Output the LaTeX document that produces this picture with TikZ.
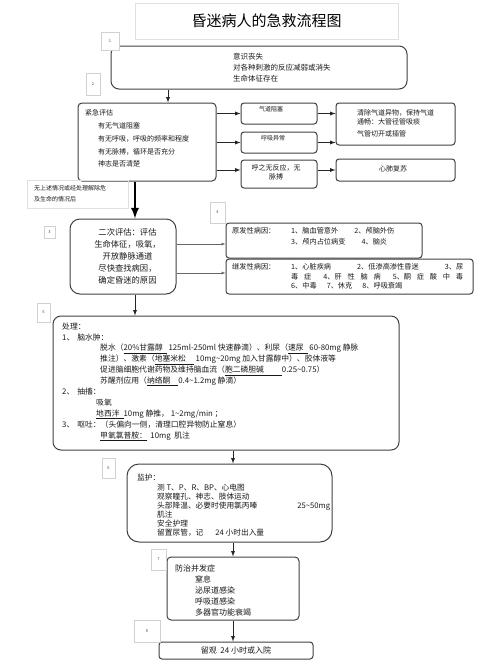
\documentclass[tikz,border=0pt]{standalone}
\usepackage{fontspec}
\setmainfont{Noto Sans CJK SC}
\usetikzlibrary{calc,arrows,shapes,positioning,shadows}
\newcommand{\drug}[2][4pt]{\underline{#2\hspace{#1}}}
\newcommand{\fs}[2]{\fontsize{#1}{#2}\selectfont}
\tikzset{
    component/.style={
    rectangle,rounded corners=3pt,draw=black!75,line width=1pt,inner sep=0pt
    },
    lcomponent/.style={
    rectangle,draw=black!12,line width=0.6pt,inner sep=0pt
    },
    tag/.style={
    rectangle,draw=black!18,line width=0.5pt,fill=white,inner sep=0pt,
    font=\fs{4}{4},text=black!70,
    drop shadow={opacity=0.12,shadow xshift=0.8pt,shadow yshift=-0.8pt}
    },
    txt/.style={
    anchor=north west,inner sep=0pt,align=left,text=black!90
    },
    ctxt/.style={
    anchor=center,inner sep=0pt,align=center,text=black!90
    },
    flow/.style={
    -latex,draw=black!85,line width=0.9pt
    },
    mainflow/.style={
    -latex,draw=black,line width=2.6pt
    },
    lflow/.style={
    -latex,draw=black!60,line width=0.4pt
    },
}
\begin{document}
\begin{tikzpicture}[x=1pt,y=-1pt]
  \useasboundingbox (0,0) rectangle (500,667);
  % boxes
  \node[lcomponent,minimum width=263,minimum height=36,font=\fs{15}{15}] (title) at (266.5,21) {昏迷病人的急救流程图};
  \node[component,rounded corners=8pt,minimum width=296,minimum height=43] (box1) at (259,67.5) {};
  \node[component,rounded corners=4pt,minimum width=138,minimum height=78] (box2) at (147,142) {};
  \node[component,minimum width=76,minimum height=21] (airway) at (279,113.5) {};
  \node[component,minimum width=76,minimum height=21] (breath) at (279,142.5) {};
  \node[component,minimum width=76,minimum height=28] (nopulse) at (279,174) {};
  \node[component,minimum width=119,minimum height=42] (clear) at (395.5,124) {};
  \node[component,minimum width=119,minimum height=22] (cpr) at (395.5,170) {};
  \node[lcomponent,minimum width=101,minimum height=28] (note) at (77.5,194) {};
  \node[component,rounded corners=10pt,minimum width=106,minimum height=75] (box3) at (123,256.5) {};
  \node[component,minimum width=196,minimum height=35] (primary) at (324,240.5) {};
  \node[component,minimum width=247,minimum height=35] (secondary) at (349.5,276.5) {};
  \node[component,rounded corners=8pt,minimum width=346,minimum height=134] (box5) at (226,383) {};
  \node[component,rounded corners=12pt,minimum width=205,minimum height=78] (box6) at (229.5,503) {};
  \node[component,rounded corners=4pt,minimum width=132,minimum height=63] (box7) at (233,588.5) {};
  \node[component,minimum width=154,minimum height=17,font=\fs{8}{8},text=black!90] (box8) at (236,650.5) {留观\ \ 24 小时或入院};

  % number tags
  \node[tag,minimum width=18,minimum height=18] (tag1) at (110,41) {1};
  \node[tag,minimum width=14,minimum height=22] (tag2) at (93,84) {2};
  \node[tag,minimum width=11,minimum height=12] (tag3) at (49.5,232) {3};
  \node[tag,minimum width=15,minimum height=21] (tag4) at (217.5,212.5) {4};
  \node[tag,minimum width=13,minimum height=19] (tag5) at (43.5,312.5) {5};
  \node[tag,minimum width=13,minimum height=20] (tag6) at (108.5,468) {6};
  \node[tag,minimum width=15,minimum height=21] (tag7) at (158.5,559.5) {7};
  \node[tag,minimum width=26,minimum height=22] (tag8) at (147,631) {8};

  % texts
  \node[txt,font=\fs{7.5}{11}] (box1T) at (233,52.5) {意识丧失\\对各种刺激的反应减弱或消失\\生命体征存在};
  \node[txt,font=\fs{7}{12.7}] (box2T) at (85,109.8) {紧急评估\\
    \hspace*{13pt}有无气道阻塞\\
    \hspace*{13pt}有无呼吸，呼吸的频率和程度\\
    \hspace*{13pt}有无脉搏，循环是否充分\\
    \hspace*{13pt}神志是否清楚};
  \node[ctxt,font=\fs{6}{6}] (airwayT) at (271,109) {气道阻塞};
  \node[ctxt,font=\fs{6}{6}] (breathT) at (273,138) {呼吸异常};
  \node[ctxt,font=\fs{7}{9}] (nopulseT) at (276,172.5) {呼之无反应，无\\脉搏};
  \node[txt,font=\fs{7}{9}] (clearT) at (357,109.8) {清除气道异物，保持气道\\通畅：大管径管吸痰\\[3pt]气管切开或插管};
  \node[ctxt,font=\fs{7}{7}] (cprT) at (393,169) {心肺复苏};
  \node[txt,font=\fs{6}{11}] (noteT) at (34,185.2) {无上述情况或经处理解除危\\及生命的情况后};
  \node[ctxt,font=\fs{8.3}{12}] (box3T) at (127.5,256) {二次评估：评估\\生命体征，吸氧，\\开放静脉通道\\尽快查找病因，\\确定昏迷的原因};
  \node[txt,font=\fs{7.2}{11}] (primaryT) at (232,226.7) {\makebox[59pt][l]{原发性病因：}1、脑血管意外\hspace{16pt}2、颅脑外伤\\
    \hspace*{59pt}3、颅内占位病变\hspace{16pt}4、脑炎};
  \node[txt,font=\fs{7.2}{9.5}] (secondaryT) at (232,263.7) {\makebox[59pt][l]{继发性病因：}\makebox[172pt][s]{1、心脏疾病\hfill 2、低渗高渗性昏迷\hfill 3、尿}\\
    \hspace*{59pt}\makebox[172pt][s]{毒\hfill 症\hspace{12pt}4、肝\hfill 性\hfill 脑\hfill 病\hspace{12pt}5、酮\hfill 症\hfill 酸\hfill 中\hfill 毒}\\
    \hspace*{59pt}6、中毒\hspace{10pt}7、休克\hspace{10pt}8、呼吸衰竭};
  \node[txt,font=\fs{7.8}{10.9}] (box5T) at (62,322.4) {处理：\\
    1、\hspace{3pt}脑水肿：\\
    \hspace*{38pt}脱水（\drug{20\%甘露醇} 125ml-250ml 快速静滴）、利尿（\drug{速尿} 60-80mg 静脉\\
    \hspace*{38pt}推注）、激素（\drug[8pt]{地塞米松} 10mg\textasciitilde 20mg 加入甘露醇中）、胶体液等\\
    \hspace*{38pt}促进脑细胞代谢药物及维持脑血流（\drug[18pt]{胞二磷胆碱}0.25\textasciitilde 0.75）\\
    \hspace*{38pt}苏醒剂应用（\drug[8pt]{纳络酮}0.4\textasciitilde 1.2mg 静滴）\\
    2、\hspace{3pt}抽搐：\\
    \hspace*{34pt}吸氧\\
    \hspace*{34pt}\drug{地西泮}10mg 静推， 1\textasciitilde 2mg/min ；\\
    3、\hspace{3pt}呕吐：（头偏向一侧，清理口腔异物防止窒息）\\
    \hspace*{38pt}\drug[0pt]{甲氧氯普胺：}\ \ 10mg\ \ 肌注};
  \node[txt,font=\fs{7.7}{9.1}] (box6T) at (137,473.5) {监护：\\[1pt]
    \hspace*{20pt}测 T、P、R、BP、心电图\\
    \hspace*{20pt}观察瞳孔、神志、肢体运动\\
    \hspace*{20pt}头部降温、必要时使用氯丙嗪\hspace{40pt}25\textasciitilde 50mg\\
    \hspace*{20pt}肌注\\
    \hspace*{20pt}安全护理\\
    \hspace*{20pt}留置尿管，记\hspace{12pt}24 小时出入量};
  \node[txt,font=\fs{8}{11}] (box7T) at (175,564.3) {防治并发症\\
    \hspace*{20pt}窒息\\
    \hspace*{20pt}泌尿道感染\\
    \hspace*{20pt}呼吸道感染\\
    \hspace*{20pt}多器官功能衰竭};

  % connectors
  \coordinate (colA) at (168,0);
  \coordinate (colB) at (135,0);
  \coordinate (primaryIn) at ([yshift=-3.5pt]primary.west);
  \coordinate (secondaryIn) at ([yshift=3.5pt]secondary.west);
  \path
    (box1.south -| colA) edge [flow] (box2.north -| colA)
    (box2.east |- airway.west) edge [flow] (airway.west)
    (box2.east |- breath.west) edge [flow] (breath.west)
    (box2.east |- cpr.west) edge [flow] (nopulse.west |- cpr.west)
    (airway.east) edge [flow] (airway.east -| clear.west)
    (breath.east) edge [flow] (breath.east -| clear.west)
    (nopulse.east |- cpr.west) edge [flow] (cpr.west)
    (box2.south -| colB) edge [mainflow] (box3.north -| colB)
    (box3.east |- primaryIn) edge [lflow] (primaryIn)
    (box3.east |- secondaryIn) edge [lflow] (secondaryIn)
    (box3.south -| colB) edge [flow] (box5.north -| colB)
    (box5.south -| box7.north) edge [flow] (box6.north -| box7.north)
    (box6.south -| box7.north) edge [flow] (box7.north)
    (box7.south) edge [flow] (box8.north -| box7.south);
\end{tikzpicture}
\end{document}
